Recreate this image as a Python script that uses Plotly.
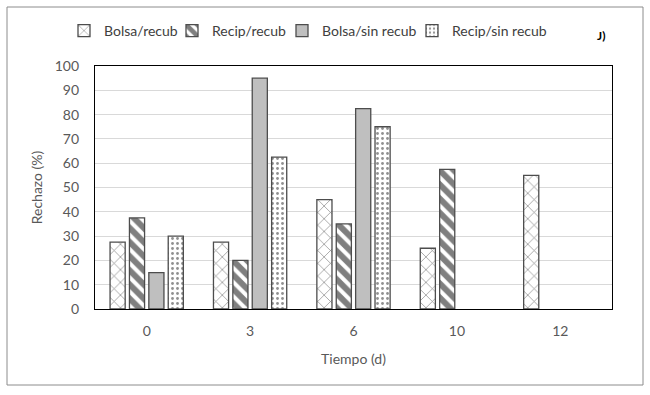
import plotly.graph_objects as go

categories = ["0", "3", "6", "10", "12"]
bolsa_recub = [27.5, 27.5, 45, 25, 55]
recip_recub = [37.5, 20, 35, 57.5, None]
bolsa_sin = [15, 95, 82.5, None, None]
recip_sin = [30, 62.5, 75, None, None]
series_names = ["Bolsa/recub", "Recip/recub", "Bolsa/sin recub", "Recip/sin recub"]

patterns = [
    dict(shape="x", fgcolor="#111111", bgcolor="white", size=9, solidity=0.15),
    dict(shape="\\", fgcolor="black", bgcolor="white", size=10, solidity=0.6),
    None,
    dict(shape=".", fgcolor="#222222", bgcolor="white", size=5, solidity=0.25),
]

W, H = 650, 395
L, R, T, B = 95, 38, 66, 86
pw, ph = W - L - R, H - T - B

def px(x):
    return (x - L) / pw

def py(y):
    return (H - B - y) / ph

legend_x = [64, 172, 282, 412]
legend_ids = ["legend", "legend2", "legend3", "legend4"]

fig = go.Figure()
for name, vals, pat, lid in zip(series_names, [bolsa_recub, recip_recub, bolsa_sin, recip_sin],
                                patterns, legend_ids):
    marker = dict(line=dict(color="#4d4d4d", width=1.3))
    if pat is None:
        marker["color"] = "#bfbfbf"
    else:
        marker["color"] = "white"
        marker["pattern"] = pat
    fig.add_trace(go.Bar(name=name, x=categories, y=vals, marker=marker, legend=lid))

fig.add_shape(type="rect", xref="paper", yref="paper",
              x0=px(7), x1=px(643), y0=py(385), y1=py(7),
              line=dict(color="#8c8c8c", width=1), layer="below")

fig.add_annotation(text="<b>J)</b>", xref="paper", yref="paper",
                   x=px(601), y=py(36), xanchor="center", yanchor="middle",
                   showarrow=False, font=dict(size=12, color="black"))

legends = {}
for lid, lx in zip(legend_ids, legend_x):
    legends[lid] = dict(orientation="h", x=px(lx), y=py(31), xanchor="left", yanchor="middle",
                        font=dict(size=14, color="#404040"), itemwidth=30,
                        bgcolor="rgba(0,0,0,0)")

fig.update_layout(
    width=W, height=H,
    margin=dict(l=L, r=R, t=T, b=B, autoexpand=False),
    paper_bgcolor="white", plot_bgcolor="white",
    font=dict(family="Lato, Open Sans, sans-serif", size=14, color="#595959"),
    barmode="group", bargap=0.25, bargroupgap=0.22,
    showlegend=True,
    **legends,
    xaxis=dict(title=dict(text="Tiempo (d)", standoff=16, font=dict(size=14, color="#595959")),
               showline=True, linecolor="black", linewidth=1.2, mirror=True,
               ticks="", ticklabelstandoff=9, tickfont=dict(size=14, color="#595959")),
    yaxis=dict(title=dict(text="Rechazo (%)", standoff=8, font=dict(size=14, color="#595959")),
               range=[0, 100], dtick=10, showgrid=True, gridcolor="#d9d9d9", gridwidth=1,
               showline=True, linecolor="black", linewidth=1.2, mirror=True,
               ticks="", ticklabelstandoff=12, zeroline=False,
               tickfont=dict(size=14, color="#595959")),
)

fig.write_html("out.html", config={"displayModeBar": False},
               post_script="document.body.style.margin='0';")
